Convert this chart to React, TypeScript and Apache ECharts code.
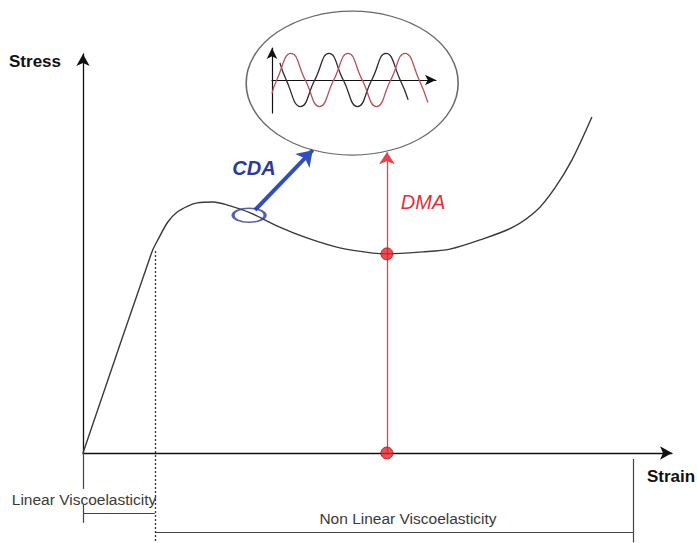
import React, { useEffect, useRef } from "react";
import * as echarts from "echarts";

// Main stress–strain curve (normalised units, 0–100 on both axes)
const strain = [0, 11.7, 12.7, 14.4, 16.0, 17.8, 19.4, 22.1, 24.4, 28.4, 33.4, 38.0, 43.6, 49.2, 51.8, 57.7, 62.3, 67.4, 73.0, 77.1, 80.1, 83.0, 86.4];
const stress = [0, 50.4, 53.4, 57.9, 60.4, 61.9, 62.7, 62.9, 62.2, 60.2, 56.6, 53.9, 51.4, 50.1, 49.9, 50.4, 51.1, 53.4, 56.6, 60.9, 66.4, 73.4, 84.2];

// Limit of linear viscoelasticity and end of the explored range
const linearLimit = 12.2;
const knee = 50.6;
const rangeEnd = 93.4;

// DMA test point
const dmaStrain = 51.6;
const dmaStress = 49.9;
const dmaArrowTop = 75.4;

// CDA test point
const cdaPoint = [28.2, 59.6];
const cdaArrowFrom = [29.2, 60.9];
const cdaArrowTo = [39.0, 75.9];

// Inset bubble centre
const insetCentre = [45.7, 92.7];

// Bracket levels (below the strain axis)
const linearBracket = -15.0;
const nonLinearBracket = -19.8;
const bracketBottom = -22.4;

// Inset: stress (black) and strain (red) waves, phase in degrees
const blackPhase = [50, 90, 180, 270, 360, 450, 540, 630, 720, 810, 860];
const blackValue = [0.64, 0, -1, 0, 1, 0, -1, 0, 1, 0, -0.74];
const redPhase = [0, 30, 120, 210, 300, 390, 480, 570, 660, 750, 840, 930, 985];
const redValue = [-0.5, 0, 1, 0, -1, 0, 1, 0, -1, 0, 1, 0, -0.85];

const zip = (a: number[], b: number[]) => a.map((v, i) => [v, b[i]]);

const ellipsePath = "path://M0,50 A50,50 0 1 1 100,50 A50,50 0 1 1 0,50 Z";
const FONT = '"Liberation Sans", Arial, Helvetica, sans-serif';

const hiddenAxis = (extra: any) => ({
  type: "value",
  axisTick: { show: false },
  axisLabel: { show: false },
  splitLine: { show: false },
  ...extra,
});

export default function App() {
  const ref = useRef<HTMLDivElement>(null);
  useEffect(() => {
    document.body.style.margin = "0";
    const chart = echarts.init(ref.current!, null, { renderer: "svg" });
    const option: any = {
      animation: false,
      backgroundColor: "#ffffff",
      grid: [
        { left: 83, right: 25, top: 54, bottom: 90 },
        { left: 272, top: 48, width: 164, height: 65 },
      ],
      xAxis: [
        hiddenAxis({
          gridIndex: 0, min: 0, max: 100,
          axisLine: { show: true, symbol: ["none", "arrow"], symbolSize: [10, 12], lineStyle: { color: "#111", width: 1.3 } },
        }),
        hiddenAxis({
          gridIndex: 1, min: 0, max: 1036,
          axisLine: { show: true, onZero: true, symbol: ["none", "arrow"], symbolSize: [8, 11], lineStyle: { color: "#111", width: 1.2 } },
        }),
      ],
      yAxis: [
        hiddenAxis({
          gridIndex: 0, min: 0, max: 100,
          axisLine: { show: true, symbol: ["none", "arrow"], symbolSize: [10, 12], lineStyle: { color: "#111", width: 1.3 } },
        }),
        hiddenAxis({
          gridIndex: 1, min: -1.24, max: 1.2,
          axisLine: { show: true, symbol: ["none", "arrow"], symbolSize: [8, 11], lineStyle: { color: "#111", width: 1.2 } },
        }),
      ],
      series: [
        {
          type: "line", xAxisIndex: 0, yAxisIndex: 0, data: zip(strain, stress),
          smooth: 0.3, showSymbol: false, clip: false, silent: true,
          lineStyle: { color: "#3a3a3a", width: 1.4 },
        },
        {
          type: "lines", coordinateSystem: "cartesian2d", xAxisIndex: 0, yAxisIndex: 0, clip: false, silent: true,
          lineStyle: { color: "#444", width: 1.2, opacity: 1 },
          data: [
            { coords: [[0, 0], [0, -9.0]] },
            { coords: [[0, -13.0], [0, -17.5]] },
            { coords: [[0, linearBracket], [linearLimit, linearBracket]] },
            { coords: [[linearLimit, nonLinearBracket], [rangeEnd, nonLinearBracket]] },
            { coords: [[rangeEnd, -1.5], [rangeEnd, bracketBottom]] },
          ],
        },
        {
          type: "lines", coordinateSystem: "cartesian2d", xAxisIndex: 0, yAxisIndex: 0, clip: false, silent: true,
          lineStyle: { color: "#333", width: 1.3, type: [2, 2], opacity: 1 },
          data: [{ coords: [[linearLimit, knee], [linearLimit, bracketBottom - 0.5]] }],
        },
        {
          type: "lines", coordinateSystem: "cartesian2d", xAxisIndex: 0, yAxisIndex: 0, clip: false, silent: true,
          symbol: ["none", "arrow"], symbolSize: [9, 12],
          lineStyle: { color: "#e8414a", width: 1.3, opacity: 1 },
          data: [{ coords: [[dmaStrain, 0], [dmaStrain, dmaArrowTop]] }],
        },
        {
          type: "lines", coordinateSystem: "cartesian2d", xAxisIndex: 0, yAxisIndex: 0, clip: false, silent: true,
          symbol: ["none", "arrow"], symbolSize: [13, 15],
          lineStyle: { color: "#2f4fbf", width: 4, opacity: 1 },
          data: [{ coords: [cdaArrowFrom, cdaArrowTo] }],
        },
        {
          type: "scatter", xAxisIndex: 0, yAxisIndex: 0, silent: true, clip: false,
          symbol: ellipsePath, symbolSize: [32, 14],
          itemStyle: { color: "transparent", borderColor: "#2a3a9a", borderWidth: 2.2 },
          data: [cdaPoint], z: 4,
        },
        {
          type: "scatter", xAxisIndex: 0, yAxisIndex: 0, silent: true, clip: false,
          symbol: ellipsePath, symbolSize: [212, 144],
          itemStyle: { color: "transparent", borderColor: "#444", borderWidth: 1.3 },
          data: [insetCentre],
        },
        {
          type: "scatter", xAxisIndex: 0, yAxisIndex: 0, silent: true, clip: false,
          symbol: "circle", symbolSize: 12,
          itemStyle: { color: "#e8202a", borderColor: "#a51515", borderWidth: 1 },
          data: [[dmaStrain, dmaStress], [dmaStrain, 0]], z: 5,
        },
        {
          type: "line", xAxisIndex: 1, yAxisIndex: 1, data: zip(blackPhase, blackValue),
          smooth: 0.5, showSymbol: false, clip: false, silent: true,
          lineStyle: { color: "#2a2a2a", width: 1.3 },
        },
        {
          type: "line", xAxisIndex: 1, yAxisIndex: 1, data: zip(redPhase, redValue),
          smooth: 0.5, showSymbol: false, clip: false, silent: true,
          lineStyle: { color: "#b8505a", width: 1.3 },
        },
      ],
      graphic: [
        { type: "text", x: 35, y: 61, style: { text: "Stress", fill: "#111", font: `bold 17px ${FONT}`, align: "center", verticalAlign: "middle" } },
        { type: "text", x: 671, y: 476, style: { text: "Strain", fill: "#111", font: `bold 17px ${FONT}`, align: "center", verticalAlign: "middle" } },
        { type: "text", x: 84, y: 499, style: { text: "Linear Viscoelasticity", fill: "#3a3a3a", font: `15.5px ${FONT}`, align: "center", verticalAlign: "middle" } },
        { type: "text", x: 408, y: 518, style: { text: "Non Linear Viscoelasticity", fill: "#3a3a3a", font: `15.5px ${FONT}`, align: "center", verticalAlign: "middle" } },
        { type: "text", x: 254, y: 168, style: { text: "CDA", fill: "#2a3a9a", font: `italic bold 20px ${FONT}`, align: "center", verticalAlign: "middle" } },
        { type: "text", x: 423, y: 202, style: { text: "DMA", fill: "#e0303a", font: `italic 20px ${FONT}`, align: "center", verticalAlign: "middle" } },
      ],
    };
    chart.setOption(option);
    return () => chart.dispose();
  }, []);
  return <div ref={ref} style={{ width: 697, height: 543 }} />;
}
